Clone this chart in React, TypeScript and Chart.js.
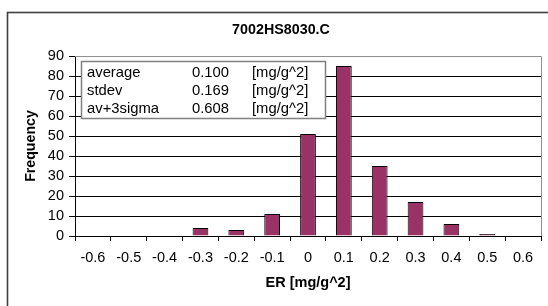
import React, { useEffect, useRef } from 'react';
import { Chart, registerables } from 'chart.js';

Chart.register(...registerables);

const categories = ['-0.6', '-0.5', '-0.4', '-0.3', '-0.2', '-0.1', '0', '0.1', '0.2', '0.3', '0.4', '0.5', '0.6'];
const frequency = [0, 0, 0, 4, 3, 11, 51, 85, 35, 17, 6, 1, 0];
const yMin = 0;
const yMax = 90;
const yStep = 10;
const chartTitle = '7002HS8030.C';
const xTitle = 'ER [mg/g^2]';
const yTitle = 'Frequency';
const statNames = ['average', 'stdev', 'av+3sigma'];
const statValues = ['0.100', '0.169', '0.608'];
const statUnits = ['[mg/g^2]', '[mg/g^2]', '[mg/g^2]'];

const FONT = '"Liberation Sans", Arial, Helvetica, sans-serif';
const W = 548;
const H = 306;

const decor = {
  id: 'decor',
  beforeDraw(chart: any) {
    const ctx = chart.ctx;
    ctx.save();
    ctx.fillStyle = '#ffffff';
    ctx.fillRect(0, 0, chart.width, chart.height);
    ctx.restore();
  },
  afterDraw(chart: any) {
    const ctx = chart.ctx;
    const a = chart.chartArea;
    ctx.save();
    // outer chart border
    ctx.strokeStyle = '#404040';
    ctx.lineWidth = 1.6;
    ctx.strokeRect(7.5, 12.5, chart.width + 20, chart.height + 20);

    // plot area border (top & right)
    ctx.strokeStyle = '#909090';
    ctx.lineWidth = 1;
    ctx.beginPath();
    ctx.moveTo(a.left, Math.round(a.top) + 0.5);
    ctx.lineTo(Math.round(a.right) + 0.5, Math.round(a.top) + 0.5);
    ctx.lineTo(Math.round(a.right) + 0.5, a.bottom);
    ctx.stroke();

    // title
    ctx.fillStyle = '#000000';
    ctx.textAlign = 'center';
    ctx.textBaseline = 'middle';
    ctx.font = `bold 14.3px ${FONT}`;
    ctx.fillText(chartTitle, 281, 30);

    // x axis title
    ctx.font = `bold 14.5px ${FONT}`;
    ctx.fillText(xTitle, (a.left + a.right) / 2, 283);

    // y axis title
    ctx.font = `bold 14.2px ${FONT}`;
    ctx.save();
    ctx.translate(31.5, (a.top + a.bottom) / 2);
    ctx.rotate(-Math.PI / 2);
    ctx.fillText(yTitle, 0, 0);
    ctx.restore();

    // stats box
    const bx = a.left + 6;
    const by = a.top + 5;
    const bw = 244;
    const bh = 57;
    ctx.fillStyle = '#ffffff';
    ctx.fillRect(bx, by, bw, bh);
    ctx.strokeStyle = '#808080';
    ctx.lineWidth = 1.5;
    ctx.strokeRect(bx + 0.5, by + 0.5, bw, bh);
    ctx.fillStyle = '#000000';
    ctx.font = `14.8px ${FONT}`;
    ctx.textAlign = 'left';
    ctx.textBaseline = 'middle';
    for (let i = 0; i < statNames.length; i++) {
      const y = by + 12 + i * 18;
      ctx.fillText(statNames[i], bx + 6, y);
      ctx.fillText(statValues[i], bx + 111, y);
      ctx.fillText(statUnits[i], bx + 171, y);
    }
    ctx.restore();
  },
};

export default function App() {
  const ref = useRef<HTMLCanvasElement | null>(null);

  useEffect(() => {
    document.body.style.margin = '0';
    document.body.style.overflow = 'hidden';
    const canvas = ref.current;
    if (!canvas) return;
    const chart = new Chart(canvas, {
      type: 'bar',
      data: {
        labels: categories,
        datasets: [
          {
            label: yTitle,
            data: frequency,
            backgroundColor: '#993366',
            borderColor: '#000000',
            borderWidth: 1,
            categoryPercentage: 1,
            barPercentage: 0.44,
          },
        ],
      },
      options: {
        responsive: false,
        animation: false,
        devicePixelRatio: 1,
        layout: { padding: { top: 56, right: 7, left: 0, bottom: 0 } },
        plugins: {
          legend: { display: false },
          title: { display: false },
          tooltip: { enabled: false },
        },
        scales: {
          x: {
            type: 'category',
            offset: true,
            grid: {
              offset: true,
              drawOnChartArea: false,
              drawTicks: true,
              tickLength: 5,
              color: '#000000',
            },
            border: { display: true, color: '#000000', width: 1 },
            ticks: {
              color: '#000000',
              font: { family: FONT, size: 14.5 },
              padding: 8,
              maxRotation: 0,
              autoSkip: false,
            },
            afterFit: (scale: any) => {
              scale.height = 70;
            },
          },
          y: {
            min: yMin,
            max: yMax,
            grid: {
              color: '#000000',
              lineWidth: 1,
              tickLength: 6,
              drawTicks: true,
            },
            border: { display: true, color: '#000000', width: 1 },
            ticks: {
              stepSize: yStep,
              autoSkip: false,
              color: '#000000',
              font: { family: FONT, size: 14.5 },
              padding: 5,
            },
            afterFit: (scale: any) => {
              scale.width = 75;
            },
          },
        },
      },
      plugins: [decor],
    });
    return () => chart.destroy();
  }, []);

  return (
    <div style={{ width: W, height: H, position: 'relative' }}>
      <canvas ref={ref} width={W} height={H} style={{ width: W, height: H, display: 'block' }} />
    </div>
  );
}
